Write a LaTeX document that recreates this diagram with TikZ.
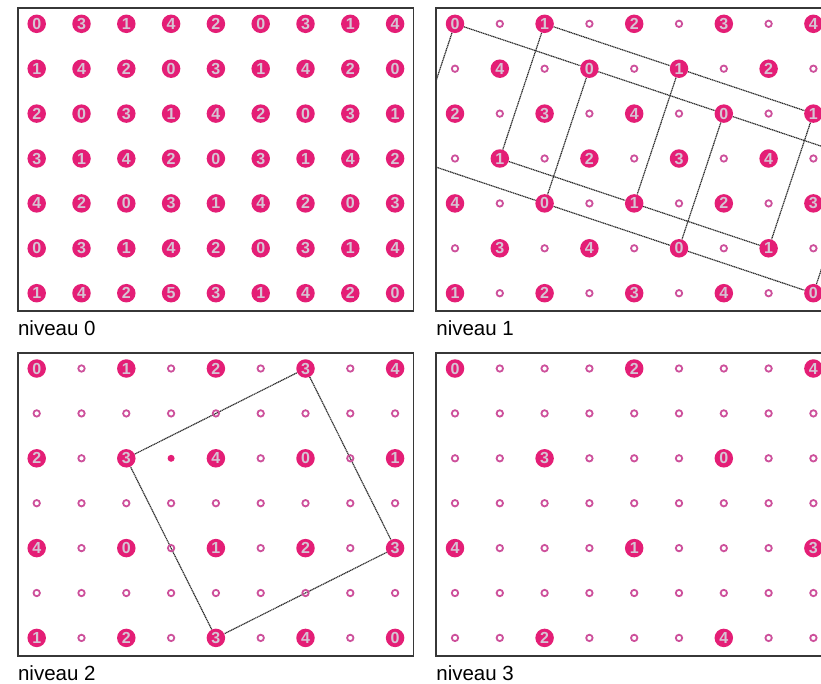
\documentclass[tikz,border=0pt]{standalone}
\usepackage{fontspec}
\setmainfont{Liberation Sans}
\usetikzlibrary{backgrounds}
\definecolor{cmag}{RGB}{228,30,118}
\definecolor{cring}{RGB}{205,80,155}
\definecolor{cdig}{RGB}{214,196,212}
\definecolor{cfr}{RGB}{55,55,55}
\definecolor{clink}{RGB}{45,45,45}

% one level: o = empty ring, * = small dot, anything else = numbered disc
\newcommand{\cellgrid}[2]{%
  \foreach \rowlist [count=\rw from 0] in {#2}{
    \foreach \vl [count=\cl from 0] in \rowlist {
      \if\vl o\node[ring] (#1-\rw-\cl) at (\cl,\rw) {};
      \else\if\vl *\node[pip] (#1-\rw-\cl) at (\cl,\rw) {};
      \else\node[disc] (#1-\rw-\cl) at (\cl,\rw) {\vl};\fi\fi
    }}}

\begin{document}
\begin{tikzpicture}[
  x=1pt,y=-1pt,
  disc/.style={circle,fill=cmag,minimum size=18.5pt,inner sep=0pt,text=cdig,font=\bfseries\fontsize{16}{16}\selectfont},
  ring/.style={circle,draw=cring,line width=1.8pt,minimum size=6.4pt,inner sep=0pt},
  pip/.style={circle,fill=cmag,minimum size=7pt,inner sep=0pt},
  panel/.style={draw=cfr,line width=1.6pt},
  link/.style={draw=clink,line width=1.2pt,dash pattern=on 1.2pt off 0.6pt},
  lab/.style={anchor=base west,inner sep=0pt,font=\fontsize{20.5}{20.5}\selectfont},
  gridunits/.style={x=44.8pt,y=-44.9pt},
]
\useasboundingbox (0,0) rectangle (821,683);
\clip (0,0) rectangle (821,683);

% ============================ niveau 0: full grid ============================
\begin{scope}[shift={(36.7,23.8)},gridunits]
  \draw[panel] (-0.42,-0.35) rectangle (8.41,6.40);
  \cellgrid{n0}{{0,3,1,4,2,0,3,1,4},{1,4,2,0,3,1,4,2,0},{2,0,3,1,4,2,0,3,1},
    {3,1,4,2,0,3,1,4,2},{4,2,0,3,1,4,2,0,3},{0,3,1,4,2,0,3,1,4},{1,4,2,5,3,1,4,2,0}}
  \node[lab] (t0) at (-0.42,6.94) {niveau 0};
\end{scope}

% ============================ niveau 1: checkerboard ============================
\begin{scope}[shift={(455,23.8)},gridunits]
  \draw[panel] (-0.42,-0.35) rectangle (8.95,6.40);
  \cellgrid{n1}{{0,o,1,o,2,o,3,o,4},{o,4,o,0,o,1,o,2,o},{2,o,3,o,4,o,0,o,1},
    {o,1,o,2,o,3,o,4,o},{4,o,0,o,1,o,2,o,3},{o,3,o,4,o,0,o,1,o},{1,o,2,o,3,o,4,o,0}}
  \node[lab] (t1) at (-0.42,6.94) {niveau 1};

  % free ends on the frame
  \coordinate (n1-w1) at (-0.42,3.193);
  \coordinate (n1-w2) at (-0.42,1.26);
  \coordinate (n1-e1) at (8.6,2.867);
  \coordinate (n1-e2) at (8.5,4.5);

  \begin{scope}[on background layer]
    % rows of the 0 / 1 sublattice
    \draw[link] (n1-0-0) -- (n1-1-3) -- (n1-2-6) -- (n1-e1);
    \draw[link] (n1-0-2) -- (n1-1-5) -- (n1-2-8);
    \draw[link] (n1-w1) -- (n1-4-2) -- (n1-5-5) -- (n1-6-8);
    \draw[link] (n1-3-1) -- (n1-4-4) -- (n1-5-7);
    % cross links
    \foreach \a/\b in {0-2/3-1,1-3/4-2,1-5/4-4,2-6/5-5,2-8/5-7}{
      \draw[link] (n1-\a) -- (n1-\b); }
    \draw[link] (n1-0-0) -- (n1-w2);
    \draw[link] (n1-6-8) -- (n1-e2);
  \end{scope}
\end{scope}

% ============================ niveau 2: even rows / cols ============================
\begin{scope}[shift={(36.7,368.5)},gridunits]
  \draw[panel] (-0.42,-0.35) rectangle (8.41,6.40);
  \cellgrid{n2}{{0,o,1,o,2,o,3,o,4},{o,o,o,o,o,o,o,o,o},{2,o,3,*,4,o,0,o,1},
    {o,o,o,o,o,o,o,o,o},{4,o,0,o,1,o,2,o,3},{o,o,o,o,o,o,o,o,o},{1,o,2,o,3,o,4,o,0}}
  \node[lab] (t2) at (-0.42,6.94) {niveau 2};

  % square through the 3s
  \begin{scope}[on background layer]
    \draw[link] (n2-2-2) -- (n2-0-6) -- (n2-4-8) -- (n2-6-4) -- (n2-2-2);
  \end{scope}
\end{scope}

% ============================ niveau 3 ============================
\begin{scope}[shift={(455,368.5)},gridunits]
  \draw[panel] (-0.42,-0.35) rectangle (8.95,6.40);
  \cellgrid{n3}{{0,o,o,o,2,o,o,o,4},{o,o,o,o,o,o,o,o,o},{o,o,3,o,o,o,0,o,o},
    {o,o,o,o,o,o,o,o,o},{4,o,o,o,1,o,o,o,3},{o,o,o,o,o,o,o,o,o},{o,o,2,o,o,o,4,o,o}}
  \node[lab] (t3) at (-0.42,6.94) {niveau 3};
\end{scope}

\end{tikzpicture}
\end{document}
